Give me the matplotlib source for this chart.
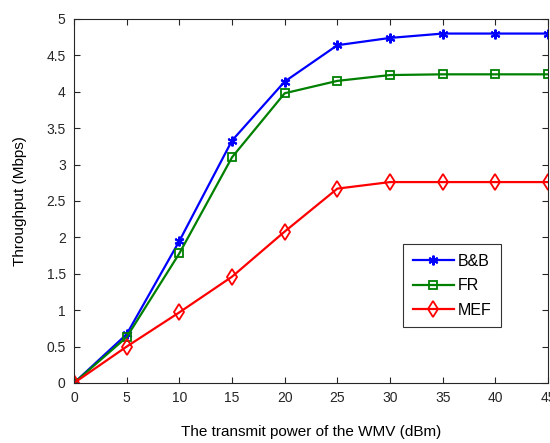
import matplotlib
matplotlib.use("Agg")
import matplotlib.pyplot as plt

power = [0, 5, 10, 15, 20, 25, 30, 35, 40, 45]
bb = [0, 0.67, 1.95, 3.33, 4.14, 4.64, 4.74, 4.80, 4.80, 4.80]
fr = [0, 0.63, 1.78, 3.10, 3.98, 4.15, 4.23, 4.24, 4.24, 4.24]
mef = [0, 0.50, 0.97, 1.46, 2.08, 2.67, 2.76, 2.76, 2.76, 2.76]
xticks = [0, 5, 10, 15, 20, 25, 30, 35, 40, 45]
yticks = [0, 0.5, 1, 1.5, 2, 2.5, 3, 3.5, 4, 4.5, 5]

plt.rcParams['font.family'] = ['Liberation Sans', 'DejaVu Sans']
fig = plt.figure(figsize=(5.5, 4.43), dpi=100)
ax = fig.add_axes([74/550, 1 - 383/443, (548 - 74)/550, (383 - 19)/443])

ax.plot(power, bb, color='#0000ff', marker=(6, 2, 0), markersize=7, lw=1.6,
        markeredgewidth=1.5, label='B&B')
ax.plot(power, fr, color='#008000', marker='s', markersize=6, lw=1.6,
        markerfacecolor='none', markeredgewidth=1.3, label='FR')
ax.plot(power, mef, color='#ff0000', marker='d', markersize=8, lw=1.6,
        markerfacecolor='none', markeredgewidth=1.3, label='MEF')

ax.set_xlim(0, 45)
ax.set_ylim(0, 5)
ax.set_xticks(xticks)
ax.set_xticklabels([str(v) for v in xticks])
ax.set_yticks(yticks)
ax.set_yticklabels([('%g' % v) for v in yticks])
ax.tick_params(direction='in', top=True, right=True, length=4, labelsize=10,
               colors='#262626', pad=6)
for s in ax.spines.values():
    s.set_color('#262626')
    s.set_linewidth(0.8)

ax.set_xlabel('The transmit power of the WMV (dBm)', fontsize=11, labelpad=14, color='#000000')
ax.set_ylabel('Throughput (Mbps)', fontsize=11, labelpad=14, color='#000000')

leg = ax.legend(loc='upper left', bbox_to_anchor=((403 - 74)/474, 1 - (244 - 19)/364),
                fontsize=11.5, frameon=True, fancybox=False, edgecolor='#000000',
                borderaxespad=0, handlelength=2.6, labelspacing=0.6, borderpad=0.6,
                handletextpad=0.2)
leg.get_frame().set_linewidth(0.8)

fig.savefig('out.png', dpi=100)
